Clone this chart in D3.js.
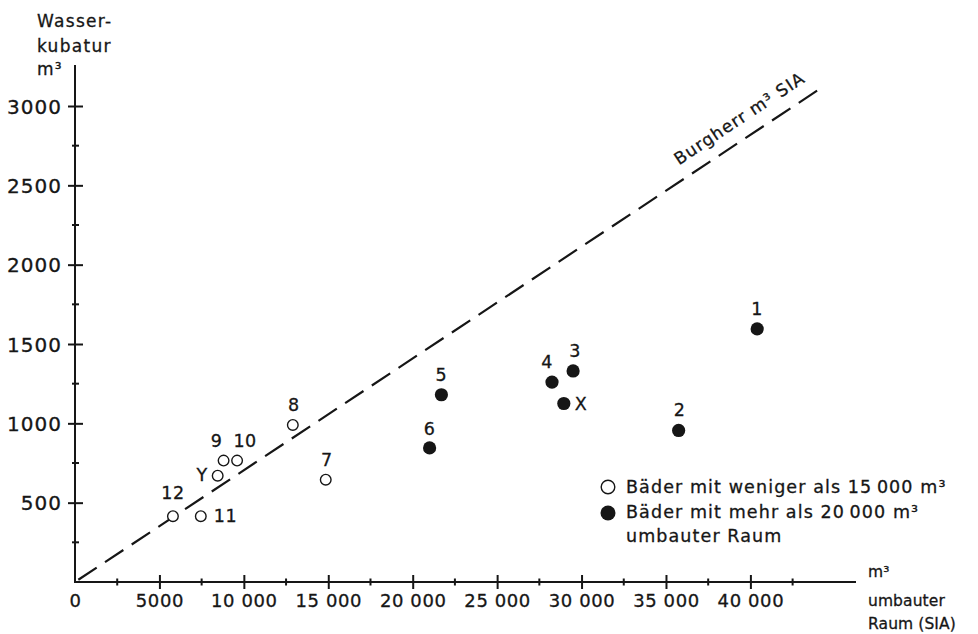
<!DOCTYPE html>
<html lang="de">
<head>
    <meta charset="UTF-8">
    <title>Wasserkubatur</title>
    <script src="https://d3js.org/d3.v7.min.js"></script>
    <style>
        * {
            margin: 0;
            padding: 0;
            box-sizing: border-box;
        }
        body {
            background: #fff;
            font-family: "DejaVu Sans", sans-serif;
        }
        svg text {
            fill: #161616;
            stroke: #161616;
            stroke-width: 0.3px;
        }
    </style>
</head>
<body>
    <div id="chart"></div>
    <script>
        // Baeder unter 15 000 m3 umbauter Raum (offene Kreise)
        const smallLabels = ["12", "11", "Y", "9", "10", "8", "7"];
        const smallVolume = [5800, 7450, 8450, 8800, 9600, 12900, 14850];
        const smallWater  = [415, 415, 670, 765, 765, 990, 645];

        // Baeder ueber 20 000 m3 umbauter Raum (volle Kreise)
        const largeLabels = ["5", "6", "4", "3", "X", "2", "1"];
        const largeVolume = [21700, 21000, 28250, 29500, 28950, 35750, 40400];
        const largeWater  = [1180, 845, 1260, 1330, 1125, 955, 1595];

        // Burgherr-Linie (m3 SIA)
        const burgherrVolume = [0, 44000];
        const burgherrWater  = [0, 3100];

        const xMajor = [5000, 10000, 15000, 20000, 25000, 30000, 35000, 40000];
        const xMinor = [2500, 7500, 12500, 17500, 22500, 27500, 32500, 37500, 42500];
        const xTickLabels = ["0", "5000", "10 000", "15 000", "20 000", "25 000", "30 000", "35 000", "40 000"];
        const yMajor = [500, 1000, 1500, 2000, 2500, 3000];
        const yMinor = [250, 750, 1250, 1750, 2250, 2750];
        const yTickLabels = ["500", "1000", "1500", "2000", "2500", "3000"];

        const width = 978, height = 634;
        const ink = "#161616";

        const svg = d3.select("#chart")
                      .append("svg")
                      .attr("width", width)
                      .attr("height", height);

        const x = d3.scaleLinear().domain([0, 40000]).range([75, 750.4]);
        const y = d3.scaleLinear().domain([0, 3000]).range([582, 106]);

        // label offsets relative to each point (layout only)
        const labelPos = {
            "12": [0, -17, "middle"], "11": [13, 6, "start"], "Y": [-10, 5, "end"],
            "9": [-7, -14, "middle"], "10": [8, -14, "middle"], "8": [1, -14, "middle"],
            "7": [1, -14, "middle"], "5": [0, -14, "middle"], "6": [0, -13, "middle"],
            "4": [-5, -14, "middle"], "3": [2, -14, "middle"], "X": [11, 6, "start"],
            "2": [1, -14, "middle"], "1": [0, -14, "middle"]
        };

        // x axis
        const xAxis = svg.append("g")
            .attr("transform", `translate(0, ${y(0)})`)
            .call(d3.axisBottom(x)
                    .tickValues([0].concat(xMajor))
                    .tickSize(7)
                    .tickSizeOuter(0)
                    .tickPadding(5)
                    .tickFormat((d, i) => xTickLabels[i]));
        xAxis.select(".domain").remove();
        xAxis.selectAll(".tick line")
             .attr("y1", d => d === 0 ? 0 : -7)
             .attr("y2", d => d === 0 ? 0 : 7)
             .attr("stroke", ink)
             .attr("stroke-width", 2);
        xAxis.selectAll(".tick text")
             .style("font-family", "DejaVu Sans")
             .style("font-size", "18px")
             .style("letter-spacing", "0.6px")
             .attr("fill", ink);

        svg.append("g")
           .selectAll("line")
           .data(xMinor)
           .join("line")
           .attr("x1", d => x(d)).attr("x2", d => x(d))
           .attr("y1", y(0) - 3.5).attr("y2", y(0) + 3.5)
           .attr("stroke", ink)
           .attr("stroke-width", 2);

        svg.append("line")
           .attr("x1", x(0) - 1).attr("x2", 856)
           .attr("y1", y(0)).attr("y2", y(0))
           .attr("stroke", ink)
           .attr("stroke-width", 2);

        // y axis
        const yAxis = svg.append("g")
            .attr("transform", `translate(${x(0)}, 0)`)
            .call(d3.axisLeft(y)
                    .tickValues(yMajor)
                    .tickSize(7)
                    .tickSizeOuter(0)
                    .tickPadding(6)
                    .tickFormat((d, i) => yTickLabels[i]));
        yAxis.select(".domain").remove();
        yAxis.selectAll(".tick line")
             .attr("x1", 8)
             .attr("stroke", ink)
             .attr("stroke-width", 2);
        yAxis.selectAll(".tick text")
             .style("font-family", "DejaVu Sans")
             .style("font-size", "20px")
             .style("letter-spacing", "1px")
             .attr("dy", "0.36em")
             .attr("fill", ink);

        svg.append("g")
           .selectAll("line")
           .data(yMinor)
           .join("line")
           .attr("x1", x(0) - 3).attr("x2", x(0) + 4)
           .attr("y1", d => y(d)).attr("y2", d => y(d))
           .attr("stroke", ink)
           .attr("stroke-width", 2);

        svg.append("line")
           .attr("x1", x(0)).attr("x2", x(0))
           .attr("y1", y(0) + 1).attr("y2", 65)
           .attr("stroke", ink)
           .attr("stroke-width", 2);

        // axis titles
        const yTitle = svg.append("text")
            .attr("x", 37)
            .style("font-size", "17px")
            .style("letter-spacing", "1.3px");
        ["Wasser-", "kubatur", "m³"].forEach((t, i) => {
            yTitle.append("tspan").attr("x", 37).attr("y", [27, 52, 75][i]).text(t);
        });

        const xTitle = svg.append("text")
            .style("font-size", "15.5px")
            .style("letter-spacing", "0.1px");
        ["m³", "umbauter", "Raum (SIA)"].forEach((t, i) => {
            xTitle.append("tspan").attr("x", 868).attr("y", [577, 606, 629][i]).text(t);
        });

        // Burgherr line
        const line = d3.line().x(d => x(d[0])).y(d => y(d[1]));
        svg.append("path")
           .datum(d3.zip(burgherrVolume, burgherrWater))
           .attr("d", line)
           .attr("fill", "none")
           .attr("stroke", ink)
           .attr("stroke-width", 2.2)
           .attr("stroke-dasharray", "22,10")
           .attr("stroke-dashoffset", -4);

        const angle = Math.atan2(y(burgherrWater[1]) - y(0), x(burgherrVolume[1]) - x(0)) * 180 / Math.PI;
        const lx = 40000, ly = lx * burgherrWater[1] / burgherrVolume[1];
        svg.append("text")
           .attr("transform", `translate(${x(lx)}, ${y(ly)}) rotate(${angle})`)
           .attr("dy", -14)
           .attr("text-anchor", "middle")
           .style("font-size", "17px")
           .style("letter-spacing", "1.1px")
           .text("Burgherr m³  SIA");

        // points
        const small = smallLabels.map((l, i) => ({ label: l, v: smallVolume[i], w: smallWater[i] }));
        const large = largeLabels.map((l, i) => ({ label: l, v: largeVolume[i], w: largeWater[i] }));

        svg.selectAll(".small")
           .data(small)
           .join("circle")
           .attr("class", "small")
           .attr("cx", d => x(d.v))
           .attr("cy", d => y(d.w))
           .attr("r", 5.3)
           .attr("fill", "#fff")
           .attr("stroke", ink)
           .attr("stroke-width", 1.4);

        svg.selectAll(".large")
           .data(large)
           .join("circle")
           .attr("class", "large")
           .attr("cx", d => x(d.v))
           .attr("cy", d => y(d.w))
           .attr("r", 6.6)
           .attr("fill", ink);

        svg.selectAll(".plabel")
           .data(small.concat(large))
           .join("text")
           .attr("class", "plabel")
           .attr("x", d => x(d.v) + labelPos[d.label][0])
           .attr("y", d => y(d.w) + labelPos[d.label][1])
           .attr("text-anchor", d => labelPos[d.label][2])
           .style("font-size", "17.5px")
           .style("letter-spacing", "0.5px")
           .text(d => d.label);

        // legend
        const legend = svg.append("g");
        legend.append("circle")
              .attr("cx", 608).attr("cy", 487).attr("r", 6.8)
              .attr("fill", "#fff").attr("stroke", ink).attr("stroke-width", 1.4);
        legend.append("circle")
              .attr("cx", 608).attr("cy", 513).attr("r", 7.5)
              .attr("fill", ink);
        ["Bäder mit weniger als 15\u2009000 m³", "Bäder mit mehr als 20\u2009000 m³", "umbauter Raum"].forEach((t, i) => {
            legend.append("text")
                  .attr("x", 626)
                  .attr("y", [493, 518, 542][i])
                  .style("font-size", "17.5px")
                  .style("letter-spacing", "1.1px")
                  .text(t);
        });
    </script>
</body>
</html>
